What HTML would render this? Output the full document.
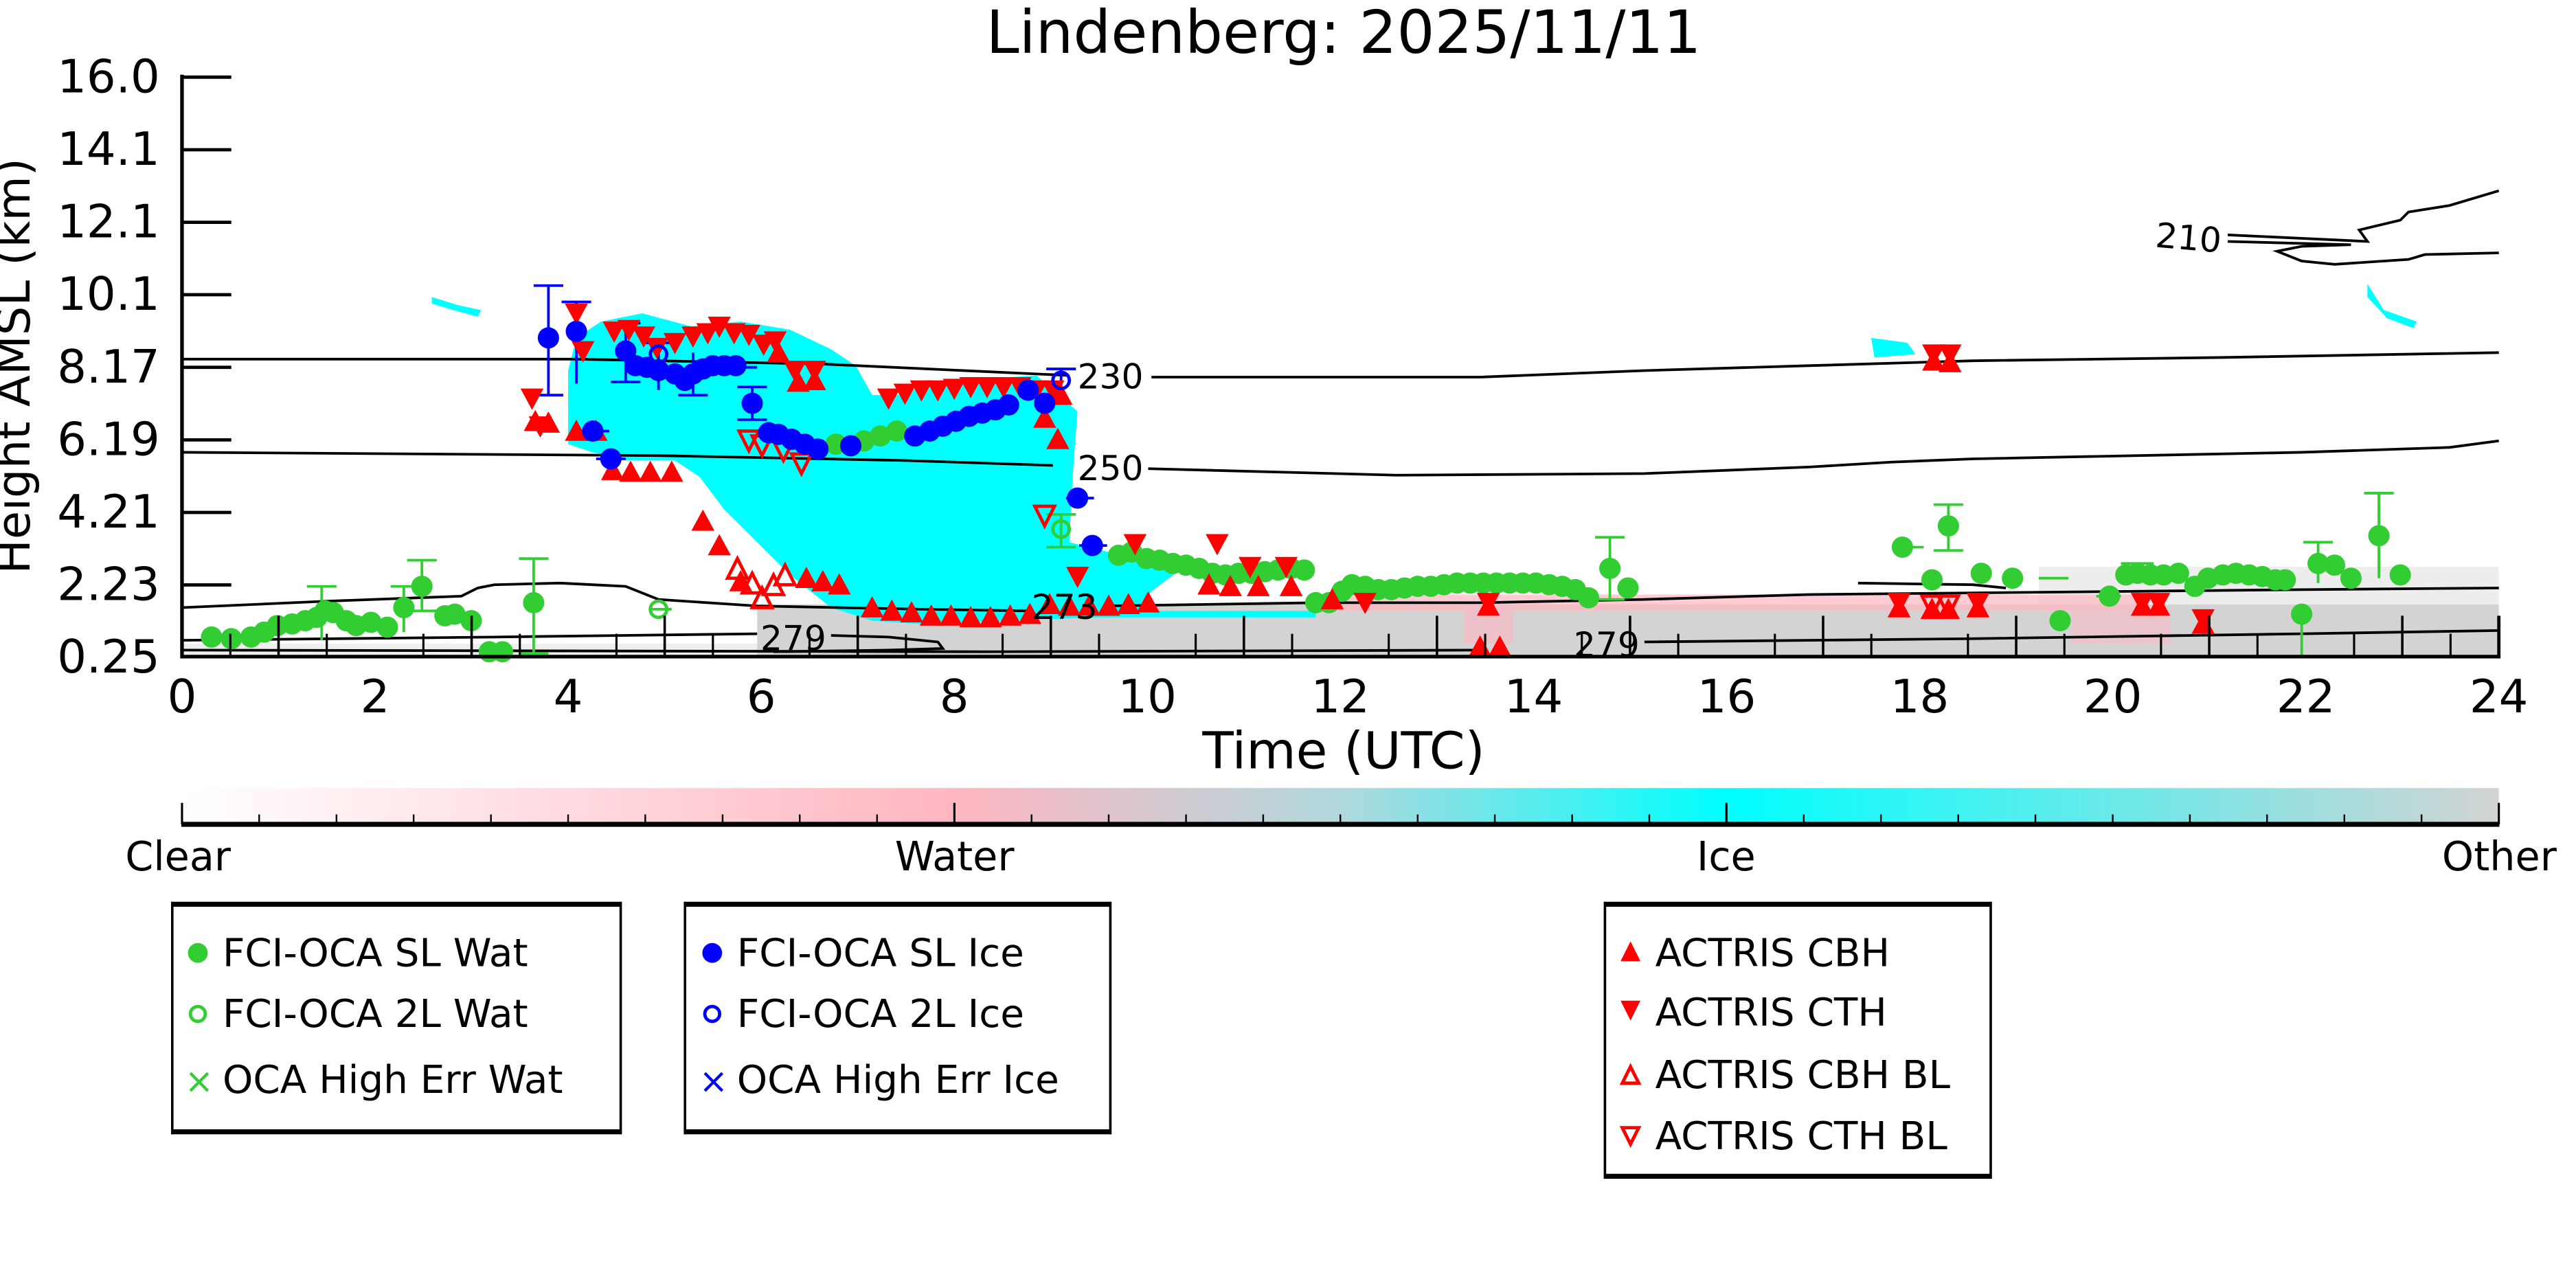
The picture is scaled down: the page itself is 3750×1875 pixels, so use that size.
<!DOCTYPE html>
<html><head><meta charset="utf-8"><style>
html,body{margin:0;padding:0;background:#fff;}
svg{display:block;font-family:"DejaVu Sans","Liberation Sans",sans-serif;}
</style></head><body>
<svg width="3750" height="1875" viewBox="0 0 1562.5 781.25" xmlns="http://www.w3.org/2000/svg">
<defs>
<linearGradient id="cb" x1="0" x2="1" y1="0" y2="0">
<stop offset="0" stop-color="#ffffff"/><stop offset="0.333" stop-color="#ffb6c1"/><stop offset="0.5" stop-color="#b0d8dc"/><stop offset="0.666" stop-color="#00ffff"/><stop offset="1" stop-color="#d3d3d3"/>
</linearGradient>
<g id="gc"><circle r="6.5" fill="#32cd32"/></g>
<g id="go"><circle r="5" fill="none" stroke="#32cd32" stroke-width="2"/></g>
<g id="bc"><circle r="6.5" fill="#0000ff"/></g>
<g id="bo"><circle r="5" fill="none" stroke="#0000ff" stroke-width="2"/></g>
<g id="tu"><path d="M-7,5 L7,5 L0,-8 Z" fill="#ff0000"/></g>
<g id="td"><path d="M-7,-5 L7,-5 L0,8 Z" fill="#ff0000"/></g>
<g id="tuo"><path d="M-6,5 L6,5 L0,-7 Z" fill="none" stroke="#ff0000" stroke-width="2"/></g>
<g id="tdo"><path d="M-6,-5 L6,-5 L0,7 Z" fill="none" stroke="#ff0000" stroke-width="2"/></g>
</defs>

<text x="815" y="32" font-size="36" text-anchor="middle">Lindenberg: 2025/11/11</text>

<g transform="matrix(0.99667 0 0 0.99155 0.767 1.68)">
<!-- background masks -->
<rect x="460" y="368" width="1060" height="32" fill="#d3d3d3"/>
<rect x="110" y="392" width="350" height="8" fill="#eeeeee"/>
<rect x="1240" y="345" width="280" height="23" fill="#e6e6e6" opacity="0.7"/>
<rect x="800" y="362" width="500" height="10" fill="#ffb6c1" opacity="0.7"/>
<rect x="890" y="372" width="30" height="20" fill="#ffb6c1" opacity="0.6"/>
<rect x="1260" y="372" width="60" height="20" fill="#ffb6c1" opacity="0.5"/>
<rect x="560" y="372" width="240" height="4" fill="#00ffff"/>
<path d="M345,225 L350,205 L365,195 L390,190 L420,198 L450,195 L480,200 L505,212 L520,222 L530,240 L545,240 L570,232 L600,230 L630,228 L655,250 L652,290 L650,330 L690,340 L720,345 L700,360 L690,375 L560,380 L530,378 L505,370 L480,350 L460,330 L440,310 L425,290 L410,280 L380,280 L360,275 L345,270 Z" fill="#00ffff"/>
<path d="M262,180 L278,185 L292,188 L290,192 L275,188 L262,184 Z" fill="#00ffff"/>
<path d="M1138,205 L1160,208 L1165,215 L1140,217 Z" fill="#00ffff"/>
<path d="M1440,172 L1450,188 L1470,195 L1468,199 L1452,193 L1440,180 Z" fill="#00ffff"/>

<g fill="none" stroke="#000" stroke-width="1.6">
<path d="M110,218 L350,218 L500,221 L650,228"/>
<path d="M700,229 L800,229 L900,229 L1000,225 L1100,222 L1200,219 L1350,217 L1520,214"/>
<path d="M110,275 L400,277 L550,280 L640,283"/>
<path d="M698,285 L850,289 L1000,288 L1100,284 L1150,281 L1200,279 L1400,275 L1490,272 L1520,268"/>
<path d="M110,370 L200,366 L280,363 L290,358 L300,356 L340,355 L380,357 L400,365 L460,369 L560,371 L625,372"/>
<path d="M672,369 L800,367 L900,367 L1000,365 L1100,362 L1200,361 L1300,360 L1400,359 L1520,358"/>
<path d="M110,390 L300,388 L460,386"/>
<path d="M505,387 L540,388 L570,391 L573,395 L540,396 L470,397"/>
<path d="M110,396 L600,397 L900,396"/>
<path d="M1000,391 L1200,389 L1400,386 L1520,384"/>
<path d="M1355,142 L1440,146 L1435,139 L1460,133 L1465,128 L1490,124 L1520,115"/>
<path d="M1355,146 L1430,148 L1400,149 L1385,152 L1400,158 L1420,160 L1450,158 L1465,157 L1475,154 L1520,153"/>
<path d="M1130,355 L1200,356 L1220,358"/>
</g>

<g stroke="#32cd32" stroke-width="1.6">
<path d="M324,340 V398 M315,340 H333 M315,398 H333"/>
<path d="M256,341 V372 M247,341 H265 M247,372 H265"/>
<path d="M195,357 V390 M186,357 H204"/>
<path d="M245,357 V385 M237,357 H253"/>
<path d="M979,327 V365 M970,327 H988 M970,365 H988"/>
<path d="M1185,307 V335 M1176,307 H1194 M1176,335 H1194"/>
<path d="M1447,300 V352 M1438,300 H1456"/>
<path d="M1410,330 V355 M1401,330 H1419"/>
<path d="M1400,368 V400"/>
<path d="M645,313 V333 M636,313 H654 M636,333 H654"/>
<path d="M395,371 H408 M1290,343 H1310 M1240,352 H1258 M1160,333 H1170 M1275,363 H1290"/>
</g>
<g stroke="#0000ff" stroke-width="1.6">
<path d="M333,173 V240 M324,173 H342 M324,240 H342"/>
<path d="M350,183 V233 M341,183 H359"/>
<path d="M380,196 V232 M371,196 H389 M371,232 H389"/>
<path d="M400,208 V237 M391,208 H409"/>
<path d="M421,214 V240 M412,240 H430"/>
<path d="M457,235 V255 M448,235 H466 M448,255 H466"/>
<path d="M645,224 V240 M636,224 H654"/>
<path d="M352,262 H370 M362,279 H380 M648,303 H665 M656,332 H673 M440,223 H460"/>
</g>

<g>
<use href="#gc" x="128" y="388"/><use href="#gc" x="140" y="389"/><use href="#gc" x="152" y="388"/><use href="#gc" x="160" y="385"/><use href="#gc" x="168" y="381"/><use href="#gc" x="177" y="380"/><use href="#gc" x="185" y="378"/><use href="#gc" x="192" y="376"/><use href="#gc" x="197" y="372"/><use href="#gc" x="202" y="373"/><use href="#gc" x="210" y="378"/><use href="#gc" x="216" y="381"/><use href="#gc" x="225" y="379"/><use href="#gc" x="235" y="382"/><use href="#gc" x="245" y="370"/><use href="#gc" x="256" y="357"/><use href="#gc" x="270" y="375"/><use href="#gc" x="276" y="374"/><use href="#gc" x="286" y="378"/><use href="#gc" x="297" y="397"/><use href="#gc" x="305" y="397"/><use href="#gc" x="324" y="367"/>
<use href="#gc" x="508" y="270"/><use href="#gc" x="525" y="268"/><use href="#gc" x="535" y="265"/><use href="#gc" x="545" y="262"/>
<use href="#gc" x="680" y="338"/><use href="#gc" x="688" y="336"/><use href="#gc" x="697" y="340"/><use href="#gc" x="705" y="341"/><use href="#gc" x="713" y="343"/><use href="#gc" x="721" y="344"/><use href="#gc" x="729" y="346"/><use href="#gc" x="737" y="349"/><use href="#gc" x="745" y="350"/><use href="#gc" x="753" y="349"/><use href="#gc" x="761" y="349"/><use href="#gc" x="769" y="348"/><use href="#gc" x="777" y="347"/><use href="#gc" x="785" y="346"/><use href="#gc" x="793" y="347"/>
<use href="#gc" x="800" y="367"/><use href="#gc" x="808" y="367"/><use href="#gc" x="816" y="360"/><use href="#gc" x="822" y="356"/><use href="#gc" x="830" y="357"/><use href="#gc" x="838" y="359"/><use href="#gc" x="846" y="359"/><use href="#gc" x="854" y="358"/><use href="#gc" x="862" y="357"/><use href="#gc" x="870" y="357"/><use href="#gc" x="878" y="356"/><use href="#gc" x="886" y="355"/><use href="#gc" x="894" y="355"/><use href="#gc" x="902" y="355"/><use href="#gc" x="910" y="355"/><use href="#gc" x="918" y="355"/><use href="#gc" x="926" y="355"/><use href="#gc" x="934" y="355"/><use href="#gc" x="942" y="356"/><use href="#gc" x="950" y="357"/><use href="#gc" x="958" y="359"/><use href="#gc" x="966" y="364"/><use href="#gc" x="979" y="346"/><use href="#gc" x="990" y="358"/>
<use href="#gc" x="1157" y="333"/><use href="#gc" x="1175" y="353"/><use href="#gc" x="1185" y="320"/><use href="#gc" x="1205" y="349"/><use href="#gc" x="1224" y="352"/><use href="#gc" x="1253" y="378"/><use href="#gc" x="1283" y="363"/><use href="#gc" x="1293" y="350"/><use href="#gc" x="1300" y="349"/><use href="#gc" x="1308" y="350"/><use href="#gc" x="1316" y="350"/><use href="#gc" x="1325" y="349"/><use href="#gc" x="1335" y="357"/><use href="#gc" x="1343" y="352"/><use href="#gc" x="1352" y="350"/><use href="#gc" x="1360" y="349"/><use href="#gc" x="1368" y="350"/><use href="#gc" x="1376" y="351"/><use href="#gc" x="1384" y="353"/><use href="#gc" x="1390" y="353"/><use href="#gc" x="1400" y="374"/><use href="#gc" x="1410" y="343"/><use href="#gc" x="1420" y="344"/><use href="#gc" x="1430" y="352"/><use href="#gc" x="1447" y="326"/><use href="#gc" x="1460" y="350"/>
<use href="#go" x="400" y="371"/><use href="#go" x="645" y="322"/>
</g>

<g>
<use href="#td" x="323" y="241"/><use href="#td" x="350" y="189"/><use href="#td" x="354" y="212"/><use href="#td" x="373" y="200"/><use href="#td" x="382" y="199"/><use href="#td" x="391" y="203"/><use href="#td" x="399" y="210"/><use href="#td" x="410" y="207"/><use href="#td" x="421" y="203"/><use href="#td" x="430" y="201"/><use href="#td" x="437" y="197"/><use href="#td" x="446" y="201"/><use href="#td" x="455" y="202"/><use href="#td" x="464" y="208"/><use href="#td" x="471" y="206"/><use href="#td" x="483" y="224"/><use href="#td" x="495" y="224"/><use href="#td" x="328" y="258"/>
<use href="#td" x="540" y="241"/><use href="#td" x="550" y="238"/><use href="#td" x="560" y="236"/><use href="#td" x="570" y="236"/><use href="#td" x="580" y="235"/><use href="#td" x="590" y="234"/><use href="#td" x="600" y="234"/><use href="#td" x="610" y="234"/><use href="#td" x="620" y="234"/><use href="#td" x="630" y="236"/><use href="#td" x="640" y="236"/>
<use href="#td" x="655" y="350"/><use href="#td" x="690" y="330"/><use href="#td" x="740" y="330"/><use href="#td" x="760" y="344"/><use href="#td" x="782" y="344"/><use href="#td" x="1176" y="214"/><use href="#td" x="1186" y="214"/><use href="#td" x="1340" y="376"/><use href="#td" x="1303" y="366"/><use href="#td" x="1313" y="366"/><use href="#td" x="830" y="366"/><use href="#td" x="905" y="366"/><use href="#td" x="1155" y="366"/><use href="#td" x="1203" y="366"/>
<use href="#tu" x="325" y="257"/><use href="#tu" x="333" y="258"/><use href="#tu" x="350" y="263"/><use href="#tu" x="362" y="263"/><use href="#tu" x="372" y="287"/><use href="#tu" x="383" y="288"/><use href="#tu" x="395" y="288"/><use href="#tu" x="408" y="288"/><use href="#tu" x="427" y="318"/><use href="#tu" x="437" y="333"/><use href="#tu" x="450" y="355"/><use href="#tu" x="490" y="353"/><use href="#tu" x="500" y="355"/><use href="#tu" x="510" y="357"/><use href="#tu" x="473" y="215"/><use href="#tu" x="495" y="232"/><use href="#tu" x="485" y="233"/>
<use href="#tu" x="530" y="371"/><use href="#tu" x="542" y="373"/><use href="#tu" x="554" y="374"/><use href="#tu" x="566" y="376"/><use href="#tu" x="578" y="376"/><use href="#tu" x="590" y="377"/><use href="#tu" x="602" y="377"/><use href="#tu" x="614" y="376"/><use href="#tu" x="626" y="375"/><use href="#tu" x="638" y="369"/><use href="#tu" x="650" y="370"/><use href="#tu" x="662" y="370"/><use href="#tu" x="674" y="370"/><use href="#tu" x="686" y="369"/><use href="#tu" x="698" y="368"/><use href="#tu" x="643" y="268"/><use href="#tu" x="635" y="255"/><use href="#tu" x="645" y="241"/>
<use href="#tu" x="735" y="357"/><use href="#tu" x="748" y="358"/><use href="#tu" x="765" y="358"/><use href="#tu" x="785" y="358"/><use href="#tu" x="810" y="366"/><use href="#tu" x="900" y="395"/><use href="#tu" x="912" y="395"/><use href="#tu" x="1155" y="371"/><use href="#tu" x="1175" y="372"/><use href="#tu" x="1185" y="372"/><use href="#tu" x="1203" y="371"/><use href="#tu" x="1303" y="370"/><use href="#tu" x="1313" y="370"/><use href="#tu" x="1340" y="381"/><use href="#tu" x="1176" y="220"/><use href="#tu" x="1186" y="221"/><use href="#tu" x="905" y="370"/>
<use href="#tuo" x="448" y="347"/><use href="#tuo" x="457" y="356"/><use href="#tuo" x="470" y="357"/><use href="#tuo" x="477" y="351"/><use href="#tuo" x="463" y="365"/>
<use href="#tdo" x="455" y="267"/><use href="#tdo" x="463" y="270"/><use href="#tdo" x="476" y="273"/><use href="#tdo" x="487" y="281"/><use href="#tdo" x="635" y="313"/><use href="#tdo" x="1175" y="368"/><use href="#tdo" x="1185" y="368"/>
</g>

<g>
<use href="#bc" x="333" y="205"/><use href="#bc" x="350" y="201"/><use href="#bc" x="360" y="262"/><use href="#bc" x="371" y="279"/><use href="#bc" x="380" y="213"/><use href="#bc" x="386" y="222"/><use href="#bc" x="393" y="223"/><use href="#bc" x="400" y="225"/><use href="#bc" x="410" y="227"/><use href="#bc" x="416" y="231"/><use href="#bc" x="421" y="227"/><use href="#bc" x="427" y="224"/><use href="#bc" x="433" y="222"/><use href="#bc" x="440" y="222"/><use href="#bc" x="447" y="222"/><use href="#bc" x="457" y="245"/><use href="#bc" x="467" y="263"/><use href="#bc" x="473" y="264"/><use href="#bc" x="481" y="267"/><use href="#bc" x="489" y="270"/><use href="#bc" x="497" y="273"/><use href="#bc" x="517" y="271"/><use href="#bc" x="556" y="265"/><use href="#bc" x="565" y="262"/><use href="#bc" x="573" y="259"/><use href="#bc" x="581" y="256"/><use href="#bc" x="589" y="253"/><use href="#bc" x="597" y="251"/><use href="#bc" x="605" y="249"/><use href="#bc" x="613" y="246"/><use href="#bc" x="625" y="237"/><use href="#bc" x="635" y="245"/><use href="#bc" x="655" y="303"/><use href="#bc" x="664" y="332"/>
<use href="#bo" x="400" y="215"/><use href="#bo" x="645" y="231"/>
</g>

<g font-size="21" fill="#000">
<text x="655" y="236">230</text>
<text x="655" y="292">250</text>
<text x="627" y="377">273</text>
<text x="462" y="396">279</text>
<text x="957" y="400">279</text>
<text x="1311" y="151" transform="rotate(5 1330 145)">210</text>
</g>

<g stroke="#000" fill="none">
<path d="M110,44 V401 M109,400 H1521" stroke-width="2.2"/>
<path d="M1520,375 V401" stroke-width="2"/>
<path d="M110,45.5 H140 M110,89.9 H140 M110,134.3 H140 M110,178.6 H140 M110,223 H140 M110,267.4 H140 M110,311.8 H140 M110,356.1 H140" stroke-width="2"/>
<path d="M168.75,400 V375 M286.25,400 V375 M403.75,400 V375 M521.25,400 V375 M638.75,400 V375 M756.25,400 V375 M873.75,400 V375 M991.25,400 V375 M1108.75,400 V375 M1226.25,400 V375 M1343.75,400 V375 M1461.25,400 V375" stroke-width="1.5"/>
<path d="M139.4,400 V386 M198.1,400 V386 M256.9,400 V386 M315.6,400 V386 M374.4,400 V386 M433.1,400 V386 M491.9,400 V386 M550.6,400 V386 M609.4,400 V386 M668.1,400 V386 M726.9,400 V386 M785.6,400 V386 M844.4,400 V386 M903.1,400 V386 M961.9,400 V386 M1020.6,400 V386 M1079.4,400 V386 M1138.1,400 V386 M1196.9,400 V386 M1255.6,400 V386 M1314.4,400 V386 M1373.1,400 V386 M1431.9,400 V386 M1490.6,400 V386" stroke-width="1.3"/>
</g>
</g>

<g font-size="28" text-anchor="end">
<text x="97" y="56">16.0</text><text x="97" y="100">14.1</text><text x="97" y="144">12.1</text><text x="97" y="188">10.1</text><text x="97" y="232">8.17</text><text x="97" y="276">6.19</text><text x="97" y="320">4.21</text><text x="97" y="364">2.23</text><text x="97" y="408">0.25</text>
</g>
<g font-size="28" text-anchor="middle">
<text x="110.4" y="432">0</text><text x="227.5" y="432">2</text><text x="344.6" y="432">4</text><text x="461.7" y="432">6</text><text x="578.8" y="432">8</text><text x="695.9" y="432">10</text><text x="813" y="432">12</text><text x="930.2" y="432">14</text><text x="1047.3" y="432">16</text><text x="1164.4" y="432">18</text><text x="1281.5" y="432">20</text><text x="1398.6" y="432">22</text><text x="1515.7" y="432">24</text>
</g>
<text x="815" y="466" font-size="31" text-anchor="middle">Time (UTC)</text>
<text transform="translate(18,222) rotate(-90)" font-size="28" text-anchor="middle">Height AMSL (km)</text>

<rect x="110.4" y="478" width="1405.3" height="22" fill="url(#cb)"/>
<path d="M110,500 H1516" stroke="#000" stroke-width="3"/>
<g stroke="#000" stroke-width="1">
<path d="M110.4,500 V487 M578.9,500 V487 M1047.2,500 V487 M1515.7,500 V487" stroke-width="1.3"/>
<path d="M157.2,500 V494 M204.1,500 V494 M250.9,500 V494 M297.8,500 V494 M344.6,500 V494 M391.4,500 V494 M438.3,500 V494 M485.1,500 V494 M532,500 V494 M625.7,500 V494 M672.5,500 V494 M719.4,500 V494 M766.2,500 V494 M813,500 V494 M859.9,500 V494 M906.7,500 V494 M953.6,500 V494 M1000.4,500 V494 M1094.1,500 V494 M1140.9,500 V494 M1187.8,500 V494 M1234.6,500 V494 M1281.5,500 V494 M1328.3,500 V494 M1375.1,500 V494 M1422,500 V494 M1468.8,500 V494"/>
</g>
<g font-size="24.5" text-anchor="middle">
<text x="108" y="528">Clear</text><text x="579" y="528">Water</text><text x="1047" y="528">Ice</text><text x="1516" y="528">Other</text>
</g>

<g fill="none" stroke="#000">
<path d="M104.5,547 V688 M376.5,547 V688 M415.5,547 V688 M673.5,547 V688 M973.5,547 V715 M1207.5,547 V715" stroke-width="1.5"/>
<path d="M104,548.5 H377 M104,686.5 H377 M415,548.5 H674 M415,686.5 H674 M973,548.5 H1208 M973,713.5 H1208" stroke-width="3"/>
</g>
<g font-size="23.5">
<circle cx="120" cy="578" r="6" fill="#32cd32"/><text x="135" y="586">FCI-OCA SL Wat</text>
<circle cx="120" cy="615" r="4.5" fill="none" stroke="#32cd32" stroke-width="2"/><text x="135" y="623">FCI-OCA 2L Wat</text>
<text x="112" y="663" fill="#32cd32" font-size="21">×</text><text x="135" y="663">OCA High Err Wat</text>
<circle cx="432" cy="578" r="6" fill="#0000ff"/><text x="447" y="586">FCI-OCA SL Ice</text>
<circle cx="432" cy="615" r="4.5" fill="none" stroke="#0000ff" stroke-width="2"/><text x="447" y="623">FCI-OCA 2L Ice</text>
<text x="424" y="663" fill="#0000ff" font-size="21">×</text><text x="447" y="663">OCA High Err Ice</text>
<path d="M983,583 L995,583 L989,571 Z" fill="#ff0000"/><text x="1004" y="586">ACTRIS CBH</text>
<path d="M983,607 L995,607 L989,619 Z" fill="#ff0000"/><text x="1004" y="622">ACTRIS CTH</text>
<path d="M984,657 L994,657 L989,647 Z" fill="none" stroke="#ff0000" stroke-width="2"/><text x="1004" y="660">ACTRIS CBH BL</text>
<path d="M984,684 L994,684 L989,694 Z" fill="none" stroke="#ff0000" stroke-width="2"/><text x="1004" y="697">ACTRIS CTH BL</text>
</g>
</svg>
</body></html>
